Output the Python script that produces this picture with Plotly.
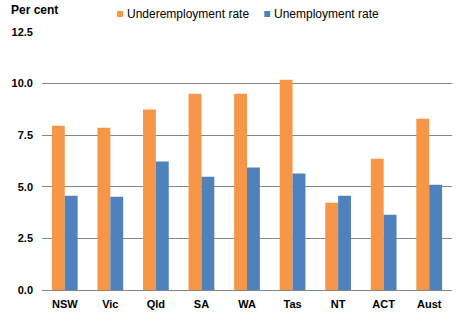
import plotly.graph_objects as go

categories = ["NSW", "Vic", "Qld", "SA", "WA", "Tas", "NT", "ACT", "Aust"]
underemployment = [7.96, 7.86, 8.74, 9.51, 9.51, 10.19, 4.23, 6.36, 8.30]
unemployment = [4.57, 4.52, 6.22, 5.49, 5.93, 5.64, 4.57, 3.65, 5.10]
tick_vals = [0, 2.5, 5, 7.5, 10, 12.5]
tick_text = ["0.0", "2.5", "5.0", "7.5", "10.0", "12.5"]

ORANGE = "#F79646"
BLUE = "#4F81BD"
GRID = "#868686"
FONT = "Liberation Sans, Arial, sans-serif"

W, H = 466, 326
L, R, T, B = 37, 14, 32, 36
pw, ph = W - L - R, H - T - B

def px(x):
    return (x - L) / pw

def py(y):
    return (H - B - y) / ph

fig = go.Figure()
fig.add_trace(go.Bar(x=categories, y=underemployment, name="Underemployment rate",
                     marker=dict(color=ORANGE, line=dict(width=0)), showlegend=False))
fig.add_trace(go.Bar(x=categories, y=unemployment, name="Unemployment rate",
                     marker=dict(color=BLUE, line=dict(width=0)), showlegend=False))

shapes = []
annotations = []
for name, color, sx in [("Underemployment rate", ORANGE, 113), ("Unemployment rate", BLUE, 262)]:
    shapes.append(dict(type="rect", xref="paper", yref="paper",
                       x0=px(sx), x1=px(sx + 6), y0=py(17), y1=py(11),
                       fillcolor=color, line=dict(width=0)))
    annotations.append(dict(text=name, xref="paper", yref="paper", x=px(sx + 8), y=py(14),
                            xanchor="left", yanchor="middle", showarrow=False,
                            font=dict(family=FONT, size=12, color="#000000")))
annotations.append(dict(text="Per cent", xref="paper", yref="paper", x=px(4), y=py(10),
                        xanchor="left", yanchor="middle", showarrow=False,
                        font=dict(family=FONT, size=12, color="#000000", weight="bold")))

fig.update_layout(
    width=W, height=H,
    margin=dict(l=L, r=R, t=T, b=B, pad=0),
    paper_bgcolor="white", plot_bgcolor="white",
    barmode="group", bargap=0.435, bargroupgap=0,
    showlegend=False,
    shapes=shapes, annotations=annotations,
    font=dict(family=FONT, size=11, color="#000000"),
)
fig.update_xaxes(showgrid=False, showline=True, linecolor=GRID, linewidth=1,
                 ticks="", tickfont=dict(family=FONT, size=11, weight="bold"),
                 ticklabelstandoff=4)
fig.update_yaxes(range=[0, 12.5], tickvals=tick_vals, ticktext=tick_text,
                 showgrid=True, gridcolor=GRID, gridwidth=1,
                 zeroline=True, zerolinecolor=GRID, zerolinewidth=1,
                 showline=False, ticks="", ticklabelstandoff=8,
                 tickfont=dict(family=FONT, size=11, weight="bold"))

fig.write_html("out.html")
